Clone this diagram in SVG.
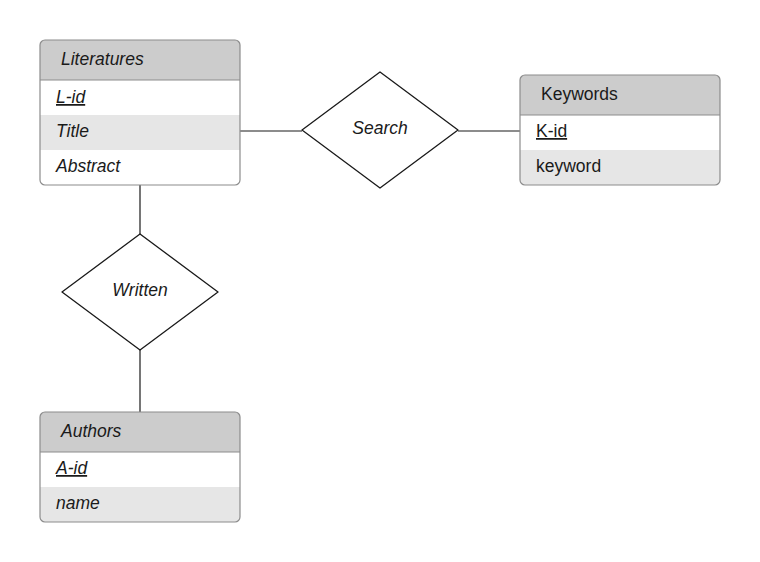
<svg xmlns="http://www.w3.org/2000/svg" width="760" height="562" viewBox="0 0 760 562">
<style>
text{font-family:"Liberation Sans",Arial,sans-serif;font-size:17.5px;fill:#1a1a1a}
.it{font-style:italic}
.u{text-decoration:underline}
.hdr{fill:#cccccc}
.alt{fill:#e6e6e6}
.frame{fill:none;stroke:#8c8c8c;stroke-width:1.2}
.sep{stroke:#8c8c8c;stroke-width:1.2}
.dia{fill:#fff;stroke:#1a1a1a;stroke-width:1.3;stroke-linejoin:round}
.ln{stroke:#1a1a1a;stroke-width:1.2;fill:none}
</style>
<defs>
<clipPath id="c1"><rect x="40" y="40" width="200" height="145" rx="5"/></clipPath>
<clipPath id="c2"><rect x="520" y="75" width="200" height="110" rx="5"/></clipPath>
<clipPath id="c3"><rect x="40" y="412" width="200" height="110" rx="5"/></clipPath>
</defs>
<rect width="760" height="562" fill="#fff"/>
<g id="connectors">
<line class="ln" x1="240" y1="131" x2="302" y2="131"/>
<line class="ln" x1="458" y1="131" x2="520" y2="131"/>
<line class="ln" x1="140" y1="185" x2="140" y2="234"/>
<line class="ln" x1="140" y1="350" x2="140" y2="412"/>
</g>
<g id="literatures">
<g clip-path="url(#c1)">
<rect x="40" y="40" width="200" height="145" fill="#fff"/>
<rect class="hdr" x="40" y="40" width="200" height="40"/>
<rect class="alt" x="40" y="115" width="200" height="35"/>
</g>
<line class="sep" x1="40" y1="80" x2="240" y2="80"/>
<rect class="frame" x="40" y="40" width="200" height="145" rx="5"/>
<text class="it" x="61" y="65">Literatures</text>
<text class="it u" x="56" y="103">L-id</text>
<text class="it" x="56" y="137">Title</text>
<text class="it" x="56" y="172">Abstract</text>
</g>
<g id="keywords">
<g clip-path="url(#c2)">
<rect x="520" y="75" width="200" height="110" fill="#fff"/>
<rect class="hdr" x="520" y="75" width="200" height="40"/>
<rect class="alt" x="520" y="150" width="200" height="35"/>
</g>
<line class="sep" x1="520" y1="115" x2="720" y2="115"/>
<rect class="frame" x="520" y="75" width="200" height="110" rx="5"/>
<text x="541" y="100">Keywords</text>
<text class="u" x="536" y="137">K-id</text>
<text x="536" y="172">keyword</text>
</g>
<g id="authors">
<g clip-path="url(#c3)">
<rect x="40" y="412" width="200" height="110" fill="#fff"/>
<rect class="hdr" x="40" y="412" width="200" height="40"/>
<rect class="alt" x="40" y="487" width="200" height="35"/>
</g>
<line class="sep" x1="40" y1="452" x2="240" y2="452"/>
<rect class="frame" x="40" y="412" width="200" height="110" rx="5"/>
<text class="it" x="61" y="437">Authors</text>
<text class="it u" x="56" y="474">A-id</text>
<text class="it" x="56" y="509">name</text>
</g>
<g id="search">
<path class="dia" d="M380 72 L458 130 L380 188 L302 130 Z"/>
<text class="it" x="380" y="134" text-anchor="middle">Search</text>
</g>
<g id="written">
<path class="dia" d="M140 234 L218 292 L140 350 L62 292 Z"/>
<text class="it" x="140" y="296" text-anchor="middle">Written</text>
</g>
</svg>
